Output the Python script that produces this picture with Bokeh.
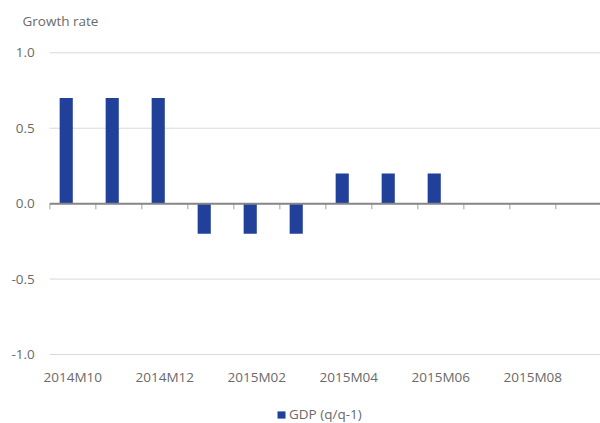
import numpy as np
from bokeh.plotting import figure
from bokeh.models import (Range1d, FixedTicker, NumeralTickFormatter, LinearAxis, Label,
                          Legend, LegendItem, ColumnDataSource)
from bokeh.embed import file_html
from bokeh.resources import INLINE

categories = ["2014M10", "2014M11", "2014M12", "2015M01", "2015M02", "2015M03",
              "2015M04", "2015M05", "2015M06", "2015M07", "2015M08", "2015M09"]
gdp = [0.7, 0.7, 0.7, -0.2, -0.2, -0.2, 0.2, 0.2, 0.2, None, None, None]
y_ticks = [-1.0, -0.5, 0.0, 0.5, 1.0]
series_name = "GDP (q/q-1)"
y_title = "Growth rate"

FONT = "Open Sans"
FS = "13.5px"
TXT = "#6a6a6a"
BAR = "#21409a"

n = len(categories)
idx = np.arange(n)
# Excel-like clustered layout: 2 series slots, 150% gap
n_series, gap = 2, 1.5
w = 1.0 / (n_series + gap)
xc = idx + gap * w / 2 + w / 2
top = np.array([0.0 if v is None else v for v in gdp], dtype=float)
has = np.array([v is not None for v in gdp])
src = ColumnDataSource(dict(x=xc[has], top=top[has]))

# the frame fills the whole canvas; axes are pinned inside it
PX_X = 46.0      # pixels per category
PX_Y = 150.85    # pixels per unit
X0, Y1, Y0 = 49.3, 52.3, 354.0   # pixel positions of x=0, y=1, y=-1
W, H = 600, 423
x_rng = Range1d(-X0 / PX_X, (W - X0) / PX_X)
y_rng = Range1d(-1 - (H - Y0) / PX_Y, 1 + Y1 / PX_Y)

p = figure(width=W, height=H, x_range=x_rng, y_range=y_rng, title=None,
           x_axis_location=None, y_axis_location=None,
           output_backend="svg", toolbar_location=None,
           min_border_left=0, min_border_right=0, min_border_top=0, min_border_bottom=0)
p.outline_line_color = None
p.xgrid.visible = False
p.ygrid.visible = False

# horizontal gridlines starting at the first category
p.segment(x0=0, x1=n, y0=y_ticks, y1=y_ticks, line_color="#d9d9d9", line_width=1)

r = p.vbar(x="x", top="top", bottom=0, width=w, source=src, fill_color=BAR, line_color=None)

# zero axis line with category tick marks
p.segment(x0=idx.astype(float), y0=0, x1=idx.astype(float), y1=-0.037,
          line_color="#c0c0c0", line_width=1.5)
p.segment(x0=0, x1=n, y0=0, y1=0, line_color="#868686", line_width=2)

# x axis labels (every other category) pinned at y = -1
lab_ticks = [float(i) + 0.5 for i in idx if i % 2 == 0]
xaxis = LinearAxis(fixed_location=y_ticks[0], ticker=FixedTicker(ticks=lab_ticks))
xaxis.major_label_overrides = {t: categories[int(t)] for t in lab_ticks}
xaxis.axis_line_color = None
xaxis.major_tick_line_color = None
xaxis.major_tick_out = 0
xaxis.major_tick_in = 0
xaxis.minor_tick_line_color = None
xaxis.major_label_standoff = 13
xaxis.major_label_text_font = FONT
xaxis.major_label_text_font_size = FS
xaxis.major_label_text_color = TXT
p.add_layout(xaxis, "below")

yaxis = LinearAxis(fixed_location=0, ticker=FixedTicker(ticks=y_ticks),
                   formatter=NumeralTickFormatter(format="0.0"))
yaxis.axis_line_color = None
yaxis.major_tick_line_color = None
yaxis.major_tick_out = 0
yaxis.major_tick_in = 0
yaxis.minor_tick_line_color = None
yaxis.major_label_standoff = 15
yaxis.major_label_text_font = FONT
yaxis.major_label_text_font_size = FS
yaxis.major_label_text_color = TXT
p.add_layout(yaxis, "left")

# axis title at top-left
p.add_layout(Label(x=22, y=H - 20, x_units="screen", y_units="screen", text=y_title,
                   text_baseline="alphabetic", text_align="left",
                   text_font=FONT, text_font_size=FS, text_color=TXT))

legend = Legend(items=[LegendItem(label=series_name, renderers=[r])], location=(276, 0),
                orientation="horizontal", border_line_color=None, background_fill_alpha=0,
                glyph_width=10, glyph_height=9, label_height=18,
                label_text_font=FONT, label_text_font_size=FS, label_text_color=TXT,
                padding=0, margin=0, spacing=0, label_standoff=3)
p.add_layout(legend)

open("out.html", "w").write(file_html(p, INLINE))
